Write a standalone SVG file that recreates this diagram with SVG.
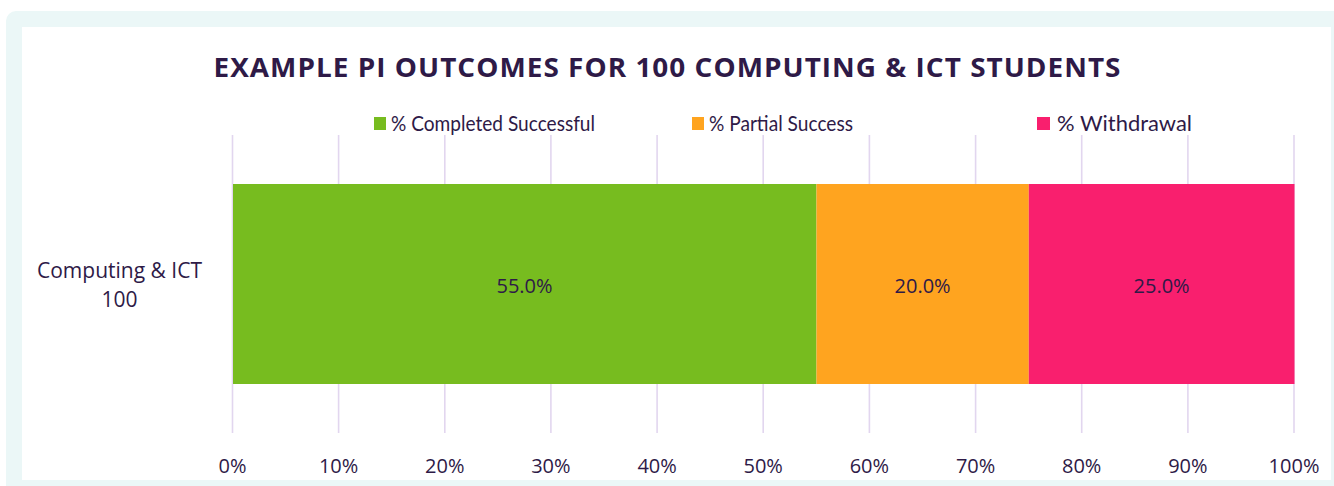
<svg xmlns="http://www.w3.org/2000/svg" width="1334" height="486" viewBox="0 0 1334 486">
<style>
.t{font-family:"Open Sans","Liberation Sans",sans-serif;fill:#2E1A47}
.title{font-size:27px;font-weight:bold;letter-spacing:1px}
.lg{font-family:Lato,"Open Sans",sans-serif;font-size:22px}
.ax{font-size:20px;text-anchor:middle}
.grid{stroke:#E2D6EF;stroke-width:1.6}
</style>
<rect x="6" y="11" width="1340" height="490" rx="10" fill="#EBF7F7"/>
<rect x="22" y="27" width="1309" height="453" fill="#FFFFFF"/>
<text class="t title" x="667.5" y="77" text-anchor="middle" textLength="908" lengthAdjust="spacingAndGlyphs">EXAMPLE PI OUTCOMES FOR 100 COMPUTING &amp; ICT STUDENTS</text>
<g id="legend">
<rect x="374" y="117" width="12" height="13" fill="#77BC1F"/>
<text class="t lg" x="391" y="131" textLength="204" lengthAdjust="spacingAndGlyphs">% Completed Successful</text>
<rect x="692" y="117" width="12" height="13" fill="#FFA41F"/>
<text class="t lg" x="709" y="131" textLength="144" lengthAdjust="spacingAndGlyphs">% Partial Success</text>
<rect x="1037" y="117" width="13" height="13" fill="#F91F6E"/>
<text class="t lg" x="1057" y="131" textLength="135" lengthAdjust="spacingAndGlyphs">% Withdrawal</text>
</g>
<g id="grid">
<line class="grid" x1="232.5" y1="135" x2="232.5" y2="433"/>
<line class="grid" x1="338.6" y1="135" x2="338.6" y2="433"/>
<line class="grid" x1="444.8" y1="135" x2="444.8" y2="433"/>
<line class="grid" x1="550.9" y1="135" x2="550.9" y2="433"/>
<line class="grid" x1="657.1" y1="135" x2="657.1" y2="433"/>
<line class="grid" x1="763.2" y1="135" x2="763.2" y2="433"/>
<line class="grid" x1="869.4" y1="135" x2="869.4" y2="433"/>
<line class="grid" x1="975.6" y1="135" x2="975.6" y2="433"/>
<line class="grid" x1="1081.7" y1="135" x2="1081.7" y2="433"/>
<line class="grid" x1="1187.9" y1="135" x2="1187.9" y2="433"/>
<line class="grid" x1="1294" y1="135" x2="1294" y2="433"/>
</g>
<g id="bars">
<rect x="233" y="184" width="583.5" height="200" fill="#77BC1F"/>
<rect x="816.5" y="184" width="212.3" height="200" fill="#FFA41F"/>
<rect x="1028.8" y="184" width="265.7" height="200" fill="#F91F6E"/>
<text class="t ax" x="524.5" y="293">55.0%</text>
<text class="t ax" x="922.6" y="293">20.0%</text>
<text class="t ax" x="1161.6" y="293">25.0%</text>
</g>
<g id="axis-labels">
<text class="t ax" x="119.5" y="278" style="font-size:21px" textLength="165" lengthAdjust="spacingAndGlyphs">Computing &amp; ICT</text>
<text class="t ax" x="119.5" y="307" style="font-size:21px">100</text>
<text class="t ax" x="232.5" y="473">0%</text>
<text class="t ax" x="338.6" y="473">10%</text>
<text class="t ax" x="444.8" y="473">20%</text>
<text class="t ax" x="550.9" y="473">30%</text>
<text class="t ax" x="657.1" y="473">40%</text>
<text class="t ax" x="763.2" y="473">50%</text>
<text class="t ax" x="869.4" y="473">60%</text>
<text class="t ax" x="975.6" y="473">70%</text>
<text class="t ax" x="1081.7" y="473">80%</text>
<text class="t ax" x="1187.9" y="473">90%</text>
<text class="t ax" x="1294" y="473">100%</text>
</g>
</svg>
